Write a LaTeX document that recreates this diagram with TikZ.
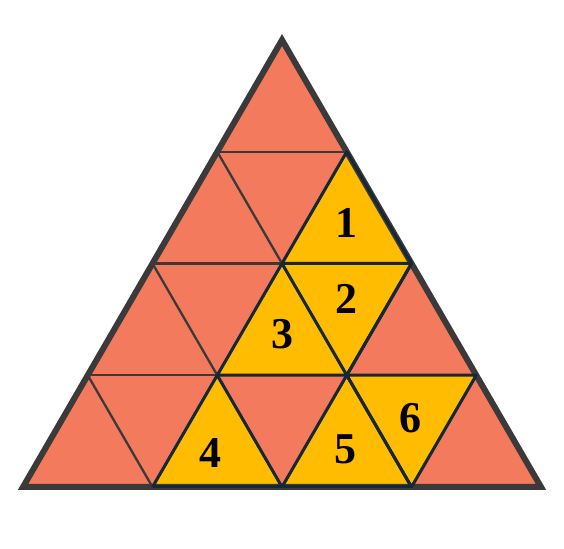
\documentclass[tikz,border=0pt]{standalone}
\usepackage{fontspec}
\setmainfont{Liberation Serif}
\usepackage{xcolor}
\definecolor{salmon}{RGB}{243,122,92}
\definecolor{amber}{RGB}{255,188,0}
\definecolor{rim}{RGB}{58,58,58}
\definecolor{ink}{RGB}{22,40,56}
\tikzset{
    grid line/.style={draw=rim, line width=2.3pt},
    yellow tri/.style={fill=amber},
    yellow edge/.style={draw=ink, line width=3pt, line join=round},
    num/.style={font=\fontsize{44}{44}\selectfont\bfseries, text=black, inner sep=0pt}
}

\begin{document}
\begin{tikzpicture}[x={(129.5pt,0pt)}, y={(64.75pt,111.75pt)}]
            \useasboundingbox (-23pt,-61pt) rectangle (541pt,487pt);
            \fill[salmon] (0,0) -- (4,0) -- (0,4) -- cycle;
    
            % yellow pieces
            \fill[yellow tri] (1,0) -- (2,0) -- (1,1) -- cycle;
            \fill[yellow tri] (2,0) -- (3,0) -- (2,1) -- cycle;
            \fill[yellow tri] (3,0) -- (2,1) -- (3,1) -- cycle;
            \fill[yellow tri] (1,1) -- (2,1) -- (1,2) -- cycle;
            \fill[yellow tri] (2,1) -- (1,2) -- (2,2) -- cycle;
            \fill[yellow tri] (1,2) -- (2,2) -- (1,3) -- cycle;
    
            % grid
            \foreach \k in {1,2,3} {
                \draw[grid line] (0,\k) -- (4-\k,\k);
                \draw[grid line] (\k,0) -- (\k,4-\k);
                \draw[grid line] (\k,0) -- (0,\k);
            }
    
            \draw[line width=6pt, draw=rim, line join=miter] (0,0) -- (4,0) -- (0,4) -- cycle;
    
            \draw[yellow edge] (1,0) -- (3,0);
            \draw[yellow edge] (1,0) -- (1,3) -- (2,2) -- (2,0) -- (1,1);
            \draw[yellow edge] (1,1) -- (3,1) -- (3,0) -- (2,1);
            \draw[yellow edge] (1,2) -- (2,2) -- (2,1) -- (1,2);
            \draw[yellow edge] (3,0) -- (2,1);
    
            \node[num] (t1) at (323pt, 264pt) {1};
            \node[num] (t2) at (323pt, 188pt) {2};
            \node[num] (t3) at (259pt, 153pt) {3};
            \node[num] (t4) at (187pt, 34pt) {4};
            \node[num] (t5) at (322pt, 38pt) {5};
            \node[num] (t6) at (387pt, 69pt) {6};
        \end{tikzpicture}
\end{document}
